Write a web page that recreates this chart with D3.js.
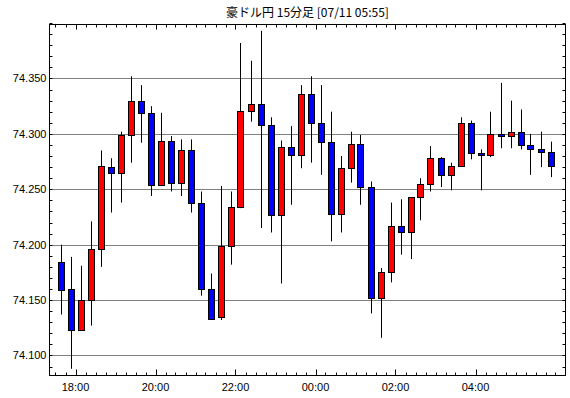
<!DOCTYPE html>
<head>
  <meta charset="utf-8">
  <title>豪ドル円 15分足</title>
  <script src="https://cdn.jsdelivr.net/npm/d3@7"></script>
  <style>
  body {
    margin: 0;
    background: #fff;
  }
  text {
    font-family: "Liberation Sans", sans-serif;
    font-size: 11px;
    fill: #000;
  }
  .title {
    font-family: "Noto Sans CJK JP", sans-serif;
    font-size: 12px;
    text-anchor: middle;
  }
  .grid line {
    stroke: #000;
    stroke-dasharray: 1,1;
  }
  .wick {
    stroke: #000;
    stroke-width: 1px;
  }
  .body {
    stroke: #000;
    stroke-width: 1px;
  }
  </style>
</head>
<body>
<script type="text/javascript">
// 15-minute candles, 07/10 17:30 .. 07/11 05:45
var start = "2024-07-10T17:30:00";
var opens  = [74.184, 74.160, 74.123, 74.150, 74.196, 74.270, 74.265, 74.299, 74.330, 74.319,
              74.254, 74.294, 74.256, 74.285, 74.238, 74.160, 74.135, 74.199, 74.234, 74.321,
              74.327, 74.308, 74.227, 74.288, 74.281, 74.336, 74.310, 74.293, 74.228, 74.269,
              74.291, 74.252, 74.152, 74.175, 74.217, 74.211, 74.243, 74.255, 74.278, 74.263,
              74.271, 74.310, 74.283, 74.281, 74.300, 74.298, 74.302, 74.290, 74.286, 74.284];
var highs  = [74.200, 74.189, 74.181, 74.221, 74.285, 74.278, 74.302, 74.352, 74.344, 74.325,
              74.319, 74.298, 74.295, 74.295, 74.248, 74.174, 74.253, 74.248, 74.382, 74.366,
              74.393, 74.315, 74.294, 74.307, 74.344, 74.352, 74.344, 74.320, 74.280, 74.302,
              74.299, 74.257, 74.179, 74.238, 74.241, 74.243, 74.260, 74.289, 74.279, 74.274,
              74.315, 74.312, 74.286, 74.320, 74.346, 74.330, 74.322, 74.300, 74.302, 74.293];
var lows   = [74.137, 74.088, 74.135, 74.127, 74.180, 74.229, 74.238, 74.274, 74.292, 74.244,
              74.253, 74.248, 74.244, 74.229, 74.154, 74.132, 74.132, 74.182, 74.233, 74.311,
              74.215, 74.211, 74.165, 74.236, 74.269, 74.274, 74.263, 74.203, 74.211, 74.256,
              74.236, 74.138, 74.116, 74.166, 74.191, 74.187, 74.222, 74.248, 74.252, 74.249,
              74.271, 74.277, 74.249, 74.279, 74.287, 74.287, 74.286, 74.263, 74.270, 74.261];
var closes = [74.159, 74.123, 74.150, 74.196, 74.271, 74.265, 74.299, 74.330, 74.319, 74.254,
              74.294, 74.256, 74.285, 74.238, 74.160, 74.133, 74.199, 74.234, 74.321, 74.327,
              74.308, 74.227, 74.288, 74.281, 74.336, 74.310, 74.293, 74.228, 74.269, 74.291,
              74.252, 74.152, 74.175, 74.217, 74.211, 74.243, 74.255, 74.278, 74.263, 74.271,
              74.310, 74.283, 74.281, 74.300, 74.298, 74.302, 74.290, 74.286, 74.284, 74.271];
var yTicks = [74.100, 74.150, 74.200, 74.250, 74.300, 74.350];
var title = "豪ドル円 15分足 [07/11 05:55]";

var width = 570, height = 398;
var pLeft = 49.5, pRight = 565.5, pTop = 24.5, pBottom = 375.5;
var step = 15 * 60 * 1000;
var t0 = new Date(start);

var candles = opens.map(function(o, i) {
  return { t: new Date(t0.getTime() + i * step), o: o, h: highs[i], l: lows[i], c: closes[i] };
});
var tLast = candles[candles.length - 1].t;

var svg = d3.select("body").append("svg")
    .attr("width", width)
    .attr("height", height);

// time scale: the plot runs from 17:21 to 06:15
var x = d3.scaleTime()
    .domain([new Date("2024-07-10T17:21:00"), new Date("2024-07-11T06:15:00")])
    .range([pLeft, pRight]);

var y = d3.scaleLinear()
    .domain([74.08195, 74.3987])
    .range([pBottom, pTop]);

svg.append("text")
    .attr("class", "title")
    .attr("x", (pLeft + pRight) / 2)
    .attr("y", 17)
    .text(title);

// dotted grid at labelled prices
svg.append("g")
    .attr("class", "grid")
  .selectAll("line")
  .data(yTicks)
  .enter().append("line")
    .attr("x1", pLeft).attr("x2", pRight)
    .attr("y1", function(d) { return Math.round(y(d)) + 0.5; })
    .attr("y2", function(d) { return Math.round(y(d)) + 0.5; });

// minor ticks, inward on all four sides
var minorY = d3.range(74.09, 74.40, 0.01);
var minorX = d3.timeMinute.every(15).range(x.domain()[0], x.domain()[1]);
var majorX = d3.timeHour.every(2).range(x.domain()[0], tLast);
var isMajor = function(d) { return d.getMinutes() === 0 && d.getHours() % 2 === 0 && d < tLast; };

var ticks = svg.append("g").attr("stroke", "#000");
ticks.selectAll(".yl").data(minorY).enter().append("line")
    .attr("x1", pLeft).attr("x2", pLeft + 3)
    .attr("y1", function(d) { return Math.round(y(d)) + 0.5; })
    .attr("y2", function(d) { return Math.round(y(d)) + 0.5; });
ticks.selectAll(".yr").data(minorY).enter().append("line")
    .attr("x1", pRight).attr("x2", pRight - 3)
    .attr("y1", function(d) { return Math.round(y(d)) + 0.5; })
    .attr("y2", function(d) { return Math.round(y(d)) + 0.5; });
ticks.selectAll(".xt").data(minorX).enter().append("line")
    .attr("x1", function(d) { return Math.round(x(d)) + 0.5; })
    .attr("x2", function(d) { return Math.round(x(d)) + 0.5; })
    .attr("y1", pTop).attr("y2", function(d) { return pTop + (isMajor(d) ? 5 : 3); });
ticks.selectAll(".xb").data(minorX).enter().append("line")
    .attr("x1", function(d) { return Math.round(x(d)) + 0.5; })
    .attr("x2", function(d) { return Math.round(x(d)) + 0.5; })
    .attr("y1", pBottom).attr("y2", function(d) { return pBottom - (isMajor(d) ? 6 : 3); });

// price labels
svg.append("g").selectAll("text")
  .data(yTicks)
  .enter().append("text")
    .attr("x", pLeft - 3)
    .attr("y", function(d) { return y(d) + 4; })
    .attr("text-anchor", "end")
    .text(function(d) { return d3.format(".3f")(d); });

// time labels
svg.append("g").selectAll("text")
  .data(majorX)
  .enter().append("text")
    .attr("x", function(d) { return x(d); })
    .attr("y", 391)
    .attr("text-anchor", "middle")
    .text(d3.timeFormat("%H:%M"));

// candles
var cx = function(d) { return Math.round(x(new Date(d.t.getTime() + step / 2))) + 0.5; };

var g = svg.append("g").selectAll("g")
  .data(candles)
  .enter().append("g");

g.append("line")
    .attr("class", "wick")
    .attr("x1", cx).attr("x2", cx)
    .attr("y1", function(d) { return y(d.h); })
    .attr("y2", function(d) { return y(d.l); });

g.append("rect")
    .attr("class", "body")
    .attr("x", function(d) { return cx(d) - 3; })
    .attr("width", 6)
    .attr("y", function(d) { return Math.round(y(Math.max(d.o, d.c))) + 0.5; })
    .attr("height", function(d) { return Math.max(1, Math.round(y(Math.min(d.o, d.c))) - Math.round(y(Math.max(d.o, d.c)))); })
    .attr("fill", function(d) { return d.c >= d.o ? "#ff0000" : "#0000ff"; });

// frame
svg.append("rect")
    .attr("x", pLeft).attr("y", pTop)
    .attr("width", pRight - pLeft).attr("height", pBottom - pTop)
    .attr("fill", "none")
    .attr("stroke", "#000");
</script>
</body>
</html>
